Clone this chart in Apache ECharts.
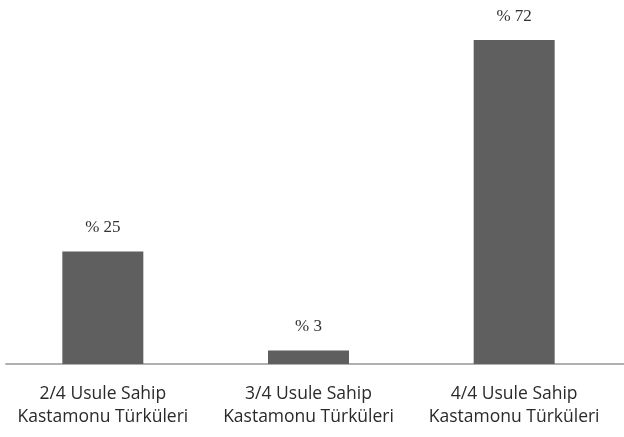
<!DOCTYPE html>
<html>
<head>
<meta charset="utf-8">
<script src="https://cdn.jsdelivr.net/npm/echarts@6/dist/echarts.min.js"></script>
<style>html,body{margin:0;padding:0;background:#fff;}#c{width:624px;height:437px;}</style>
</head>
<body>
<div id="c"></div>
<script>
const categories = ['2/4 Usule Sahip\nKastamonu Türküleri', '3/4 Usule Sahip\nKastamonu Türküleri', '4/4 Usule Sahip\nKastamonu Türküleri'];
const values = [25, 3, 72];

const chart = echarts.init(document.getElementById('c'));
chart.setOption({
  animation: false,
  backgroundColor: '#fff',
  grid: [
    { left: -3, width: 620, top: 4, bottom: 73 },
    { left: 6, right: 0, top: 4, bottom: 73 }
  ],
  xAxis: [
    {
      type: 'category', data: categories, gridIndex: 0,
      axisLine: { show: false }, axisTick: { show: false },
      axisLabel: {
        color: '#2a2a2a', fontFamily: 'Open Sans', fontSize: 17.5, lineHeight: 23,
        margin: 19, interval: 0
      }
    },
    {
      type: 'category', data: [''], gridIndex: 1,
      axisLine: { show: true, lineStyle: { color: '#b0b0b0', width: 2 } },
      axisTick: { show: false }, axisLabel: { show: false }
    }
  ],
  yAxis: [
    { type: 'value', min: 0, max: 80, gridIndex: 0, show: false },
    { type: 'value', min: 0, max: 80, gridIndex: 1, show: false }
  ],
  series: [
    {
      type: 'bar', data: values, xAxisIndex: 0, yAxisIndex: 0,
      barWidth: 81,
      itemStyle: { color: '#5f5f5f' },
      label: {
        show: true, position: 'top', distance: 15,
        formatter: p => '% ' + p.value,
        fontFamily: 'Liberation Serif', fontSize: 17, color: '#333'
      }
    },
    { type: 'bar', data: [], xAxisIndex: 1, yAxisIndex: 1 }
  ]
});
</script>
</body>
</html>
